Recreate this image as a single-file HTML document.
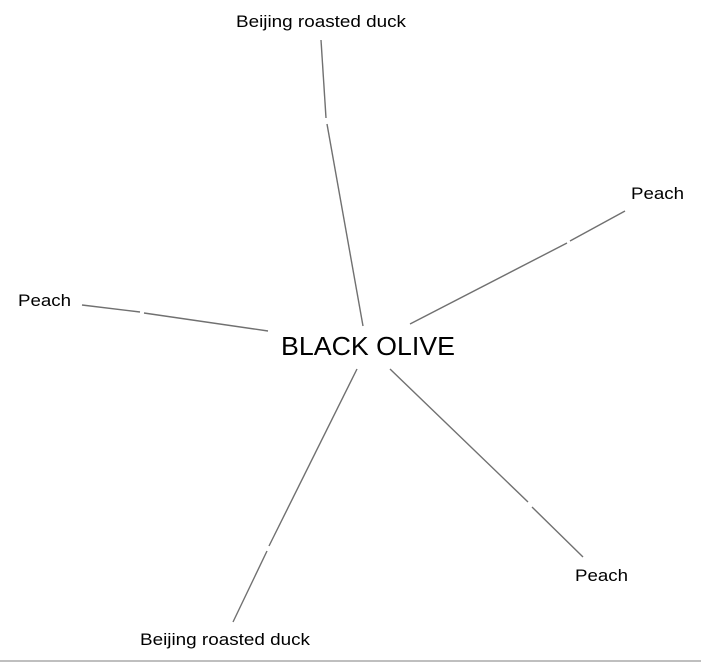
<!DOCTYPE html>
<html><head><meta charset="utf-8"><style>html,body{margin:0;padding:0;background:#fff}svg{display:block}</style></head>
<body>
<svg width="701" height="663" viewBox="0 0 701 663" xmlns="http://www.w3.org/2000/svg">
<g stroke="#707070" stroke-width="1.4" fill="none">
<line x1="321" y1="40" x2="326" y2="118"/><line x1="327" y1="124" x2="363" y2="326"/>
<line x1="625" y1="211" x2="570" y2="241"/><line x1="567" y1="243" x2="410" y2="324"/>
<line x1="82" y1="305" x2="140" y2="312"/><line x1="144" y1="313" x2="268" y2="331"/>
<line x1="390" y1="369" x2="528" y2="502"/><line x1="532" y1="507" x2="583" y2="557"/>
<line x1="357" y1="369" x2="269" y2="546"/><line x1="267" y1="551" x2="233" y2="622"/>
<line x1="0" y1="661" x2="701" y2="661" stroke="#aaa"/>
</g>
<g font-family="Liberation Sans, sans-serif" fill="#000">
<text x="236" y="27" font-size="17" textLength="170" lengthAdjust="spacingAndGlyphs">Beijing roasted duck</text>
<text x="140" y="645" font-size="17" textLength="170" lengthAdjust="spacingAndGlyphs">Beijing roasted duck</text>
<text x="631" y="199" font-size="17" textLength="53" lengthAdjust="spacingAndGlyphs">Peach</text>
<text x="18" y="306" font-size="17" textLength="53" lengthAdjust="spacingAndGlyphs">Peach</text>
<text x="575" y="581" font-size="17" textLength="53" lengthAdjust="spacingAndGlyphs">Peach</text>
<text x="281" y="355" font-size="26" textLength="174" lengthAdjust="spacingAndGlyphs">BLACK OLIVE</text>
</g>
</svg>
</body></html>
